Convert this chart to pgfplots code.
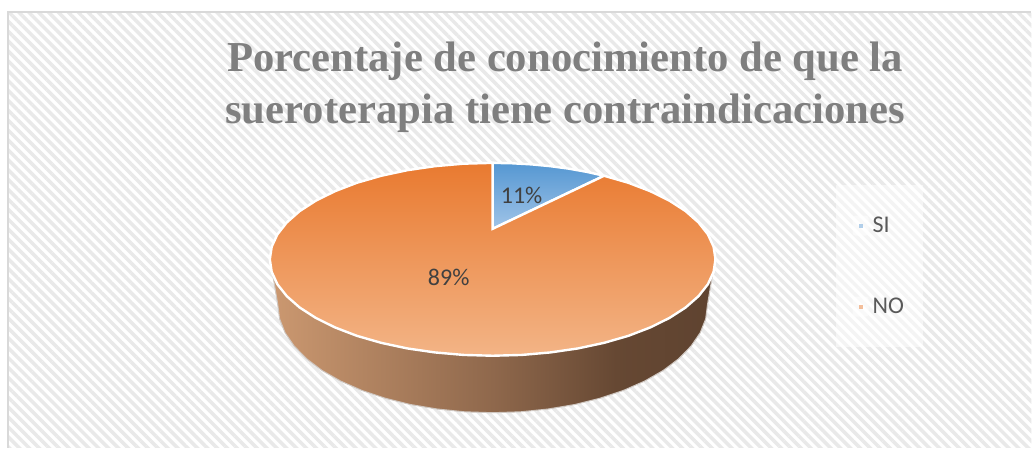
\documentclass[border=0pt]{standalone}
\usepackage{fontspec}
\usepackage{pgfplots}
\pgfplotsset{compat=1.18}
\usetikzlibrary{patterns.meta}
\setmainfont{Carlito}
\newfontfamily\titlefont{Liberation Serif}
\definecolor{stripe}{HTML}{E9E9E9}
\definecolor{framec}{HTML}{D9D9D9}
\definecolor{titlec}{HTML}{7F7F7F}
\definecolor{labelc}{HTML}{404040}
\definecolor{legc}{HTML}{595959}
\definecolor{bluetop}{HTML}{5597D2}
\definecolor{bluebot}{HTML}{A0C4E8}
\definecolor{orangetop}{HTML}{E97A30}
\definecolor{orangebot}{HTML}{F3B486}
\definecolor{sideA}{HTML}{CB9870}
\definecolor{sideB}{HTML}{8F684C}
\definecolor{sideC}{HTML}{664833}
\definecolor{sideD}{HTML}{5F4330}
\pgfdeclarehorizontalshading{sideshade}{100bp}{
 color(0bp)=(sideA); color(25bp)=(sideA); color(50bp)=(sideB); color(64bp)=(sideC); color(75bp)=(sideD); color(100bp)=(sideD)}
\begin{document}
\begin{tikzpicture}
\begin{axis}[
  width=1032pt, height=448pt, scale only axis,
  xmin=0, xmax=1032, ymin=0, ymax=448, y dir=reverse,
  axis lines=none, clip=false,
  legend style={at={(axis cs:836,185)}, anchor=north west, fill=white, fill opacity=0.5, text opacity=1,
    draw=none, row sep=60pt, inner xsep=17pt, inner ysep=30pt, column sep=2pt,
    font=\fontsize{24}{26}\selectfont, text=legc},
  legend cell align=left,
]
% card background
\fill[white] (axis cs:0,0) rectangle (axis cs:1032,448);
\fill[pattern={Lines[angle=-45,distance=7pt,line width=3.5pt]}, pattern color=stripe] (axis cs:8,12) rectangle (axis cs:1032,448);
\draw[framec, line width=1.5pt] (axis cs:1032,12) -- (axis cs:8,12) -- (axis cs:8,448);
% side wall of the pie
\addplot[forget plot, shading=sideshade, draw=white!70!sideD, line width=1pt] coordinates {
 (273,275)(278,305)(279.8,319.1)(285.3,333)(294.4,346.3)(306.8,359)(322.4,370.8)(341,381.4)(362.1,390.7)(385.5,398.5)(410.7,404.8)(437.4,409.3)(464.9,412.1)(493,413)(521.1,412.1)(548.6,409.3)(575.3,404.8)(600.5,398.5)(623.9,390.7)(645,381.4)(663.6,370.8)(679.2,359)(691.6,346.3)(700.7,333)(706.2,319.1)(708,305)(713,275)
} --cycle;
% SI slice, 11 %
\addplot[top color=bluetop, bottom color=bluebot, draw=white, line width=2.4pt,
  legend image code/.code={\fill[white,shade=false,draw=none,rounded corners=3pt] (-8pt,-10pt) rectangle (8pt,10pt); \fill[bluetop!90!white,shade=false,draw=none] (-2pt,-2pt) rectangle (2pt,2pt);}] coordinates {
 (493,229)(493,163)(512.4,163.4)(531.7,164.5)(550.7,166.3)(569.3,168.8)(587.2,172)(604.5,175.9)
} --cycle;
\addlegendentry{SI}
% NO slice, 89 %
\addplot[top color=orangetop, bottom color=orangebot, draw=white, line width=2.4pt,
  legend image code/.code={\fill[white,shade=false,draw=none,rounded corners=3pt] (-8pt,-10pt) rectangle (8pt,10pt); \fill[orangetop!95!white,shade=false,draw=none] (-2pt,-2pt) rectangle (2pt,2pt);}] coordinates {
 (493,229)(604.5,175.9)(628.8,182.9)(650.7,191.3)(669.9,200.8)(686.1,211.25)(699,222.6)(708.4,234.5)(714.1,246.9)
 (716,259.5)(714.1,272.1)(708.4,284.5)(699,296.4)(686.1,307.75)(669.9,318.2)(650.7,327.7)(628.8,336.1)(604.5,343.1)(578.3,348.7)(550.7,352.7)(522.1,355.2)
 (493,356)(463.9,355.2)(435.3,352.7)(407.7,348.7)(381.5,343.1)(357.2,336.1)(335.3,327.7)(316.1,318.2)(299.9,307.75)(287,296.4)(277.6,284.5)(271.9,272.1)
 (270,259.5)(271.9,246.9)(277.6,234.5)(287,222.6)(299.9,211.25)(316.1,200.8)(335.3,191.3)(357.2,182.9)(381.5,175.9)(407.7,170.3)(435.3,166.3)(463.9,163.8)(493,163)
} --cycle;
\addlegendentry{NO}
\node[text=labelc, font=\fontsize{24}{26}\selectfont] at (axis cs:522,196) {11\%};
\node[text=labelc, font=\fontsize{24}{26}\selectfont] at (axis cs:449,278) {89\%};
\node[text=titlec, font=\titlefont\bfseries\fontsize{42.7}{52}\selectfont, align=center, anchor=center] at (axis cs:565.5,87)
 {Porcentaje de conocimiento de que la\\sueroterapia tiene contraindicaciones};
\end{axis}
\end{tikzpicture}
\end{document}
